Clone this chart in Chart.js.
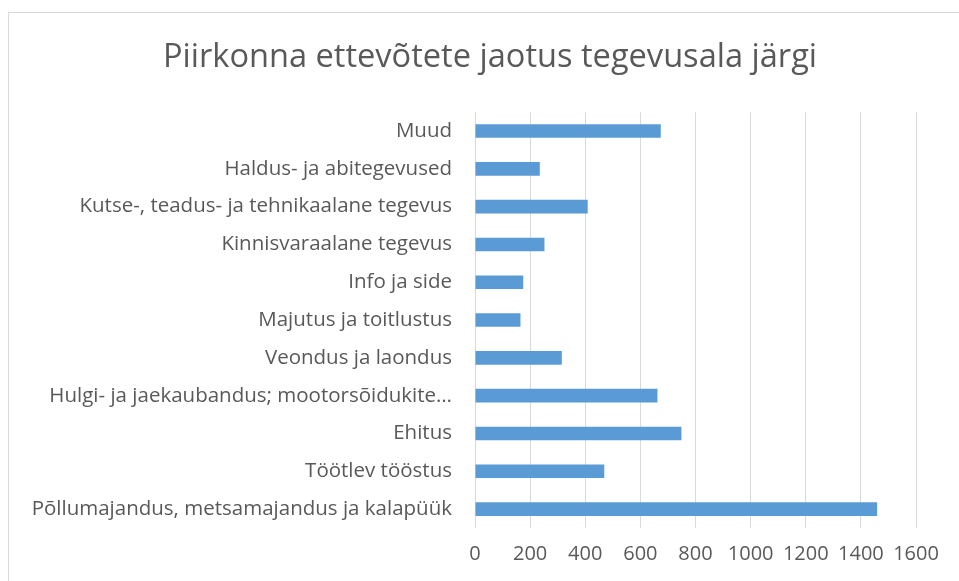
<!DOCTYPE html>
<html>
<head>
<meta charset="utf-8">
<script src="https://cdn.jsdelivr.net/npm/chart.js@4.4.0/dist/chart.umd.min.js"></script>
<style>
  html, body { margin: 0; padding: 0; background: #fff; }
  #wrap { position: relative; width: 959px; height: 581px; }
</style>
</head>
<body>
<div id="wrap"><canvas id="chart" width="959" height="581"></canvas></div>
<script>
// andmed
const categories = [
  'Muud',
  'Haldus- ja abitegevused',
  'Kutse-, teadus- ja tehnikaalane tegevus',
  'Kinnisvaraalane tegevus',
  'Info ja side',
  'Majutus ja toitlustus',
  'Veondus ja laondus',
  'Hulgi- ja jaekaubandus; mootorsõidukite…',
  'Ehitus',
  'Töötlev tööstus',
  'Põllumajandus, metsamajandus ja kalapüük'
];
const values = [674, 235, 409, 252, 175, 165, 315, 662, 749, 469, 1459];
const xTicks = [0, 200, 400, 600, 800, 1000, 1200, 1400, 1600];

const textColor = '#595959';
const fontFamily = "'Open Sans', sans-serif";

// raam ümber diagrammi
const framePlugin = {
  id: 'frame',
  beforeDraw(chart) {
    const c = chart.ctx;
    c.save();
    c.strokeStyle = '#d9d9d9';
    c.lineWidth = 1;
    c.strokeRect(8.5, 12.5, chart.width + 20, chart.height + 20);
    c.restore();
  }
};

new Chart(document.getElementById('chart'), {
  type: 'bar',
  data: {
    labels: categories,
    datasets: [{
      data: values,
      backgroundColor: '#5b9bd5',
      barPercentage: 0.36,
      categoryPercentage: 1
    }]
  },
  options: {
    indexAxis: 'y',
    responsive: false,
    animation: false,
    layout: { padding: { left: 21, right: 0, top: 0, bottom: 1 } },
    plugins: {
      legend: { display: false },
      tooltip: { enabled: false },
      title: {
        display: true,
        text: 'Piirkonna ettevõtete jaotus tegevusala järgi',
        color: textColor,
        font: { family: fontFamily, size: 32.6, weight: 'normal' },
        padding: { top: 38, bottom: 35 }
      }
    },
    scales: {
      x: {
        min: 0,
        max: 1600,
        afterBuildTicks(scale) {
          scale.ticks = xTicks.map(v => ({ value: v }));
        },
        grid: { color: '#d9d9d9', drawTicks: false },
        border: { display: false },
        ticks: {
          color: textColor,
          padding: 14,
          font: { family: fontFamily, size: 20 },
          callback: v => String(v)
        }
      },
      y: {
        afterFit(scale) { scale.width = 454; },
        grid: { display: false },
        border: { display: false },
        ticks: {
          color: textColor,
          padding: 15,
          autoSkip: false,
          font: { family: fontFamily, size: 20.5 }
        }
      },
      // tühi parempoolne telg, et jätta paremale ääreruum
      yRight: {
        type: 'linear',
        axis: 'y',
        position: 'right',
        afterFit(scale) { scale.width = 43; },
        grid: { display: false },
        border: { display: false },
        ticks: { display: false }
      }
    }
  },
  plugins: [framePlugin]
});
</script>
</body>
</html>
